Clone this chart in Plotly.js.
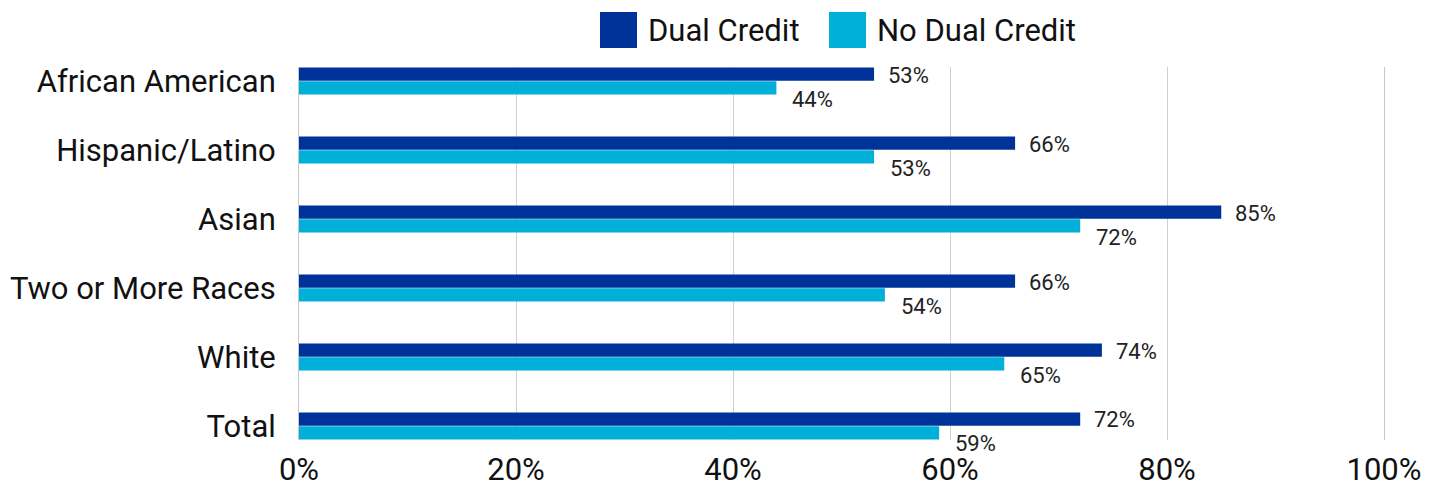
<!DOCTYPE html>
<html>
<head>
<meta charset="utf-8">
<script src="https://cdn.plot.ly/plotly-3.0.1.min.js"></script>
<style>html,body{margin:0;padding:0;background:#fff}#chart{width:1437px;height:483px}</style>
</head>
<body>
<div id="chart"></div>
<script>
const categories = ["African American", "Hispanic/Latino", "Asian", "Two or More Races", "White", "Total"];
const seriesNames = ["Dual Credit", "No Dual Credit"];
const dualCredit = [0.53, 0.66, 0.85, 0.66, 0.74, 0.72];
const noDualCredit = [0.44, 0.53, 0.72, 0.54, 0.65, 0.59];
const xTicks = [0, 0.2, 0.4, 0.6, 0.8, 1.0];
const xTickLabels = ["0%", "20%", "40%", "60%", "80%", "100%"];

const colors = ["#003399", "#00B0D8"];
const font = "Roboto, 'Noto Sans', sans-serif";

const traces = [dualCredit, noDualCredit].map((vals, i) => ({
  type: "bar",
  orientation: "h",
  name: seriesNames[i],
  y: categories,
  x: vals,
  marker: {color: colors[i], line: {width: 0}},
  hoverinfo: "x+y+name",
  showlegend: false
}));

const annotations = [];
categories.forEach((c, k) => {
  annotations.push({x: dualCredit[k], y: c, xref: "x", yref: "y", text: Math.round(dualCredit[k] * 100) + "%",
    showarrow: false, xanchor: "left", yanchor: "middle", xshift: 12, yshift: 6,
    font: {family: font, size: 22, color: "#222"}});
  annotations.push({x: noDualCredit[k], y: c, xref: "x", yref: "y", text: Math.round(noDualCredit[k] * 100) + "%",
    showarrow: false, xanchor: "left", yanchor: "middle", xshift: 14, yshift: -18,
    font: {family: font, size: 22, color: "#222"}});
});

// custom legend with large square swatches (plot area: x 299-1384, y 67-440)
const PW = 1085, PH = 373, PL = 299, PB = 440;
const legendX = [600, 829];
const shapes = [];
seriesNames.forEach((n, i) => {
  shapes.push({type: "rect", xref: "paper", yref: "paper",
    x0: (legendX[i] - PL) / PW, x1: (legendX[i] + 37 - PL) / PW,
    y0: (PB - 48) / PH, y1: (PB - 12) / PH,
    fillcolor: colors[i], line: {width: 0}});
  annotations.push({xref: "paper", yref: "paper",
    x: (legendX[i] + 46 - PL) / PW, y: (PB - 31) / PH,
    xanchor: "left", yanchor: "middle", showarrow: false, text: n,
    font: {family: font, size: 31, color: "#111"}});
});

const layout = {
  width: 1437, height: 483,
  margin: {l: 299, r: 53, t: 67, b: 43, pad: 0},
  paper_bgcolor: "#fff", plot_bgcolor: "#fff",
  barmode: "group", bargap: 0.6, bargroupgap: 0.04,
  showlegend: false,
  font: {family: font, color: "#111"},
  xaxis: {
    range: [0, 1], tickvals: xTicks, ticktext: xTickLabels,
    showgrid: true, gridcolor: "#d0d0d0", gridwidth: 1, zeroline: false,
    ticks: "outside", ticklen: 2, tickcolor: "rgba(0,0,0,0)",
    tickfont: {family: font, size: 31, color: "#111"}, fixedrange: true
  },
  yaxis: {
    type: "category", range: [5.203, -0.203],
    showgrid: false, zeroline: false,
    showline: true, mirror: true, linecolor: "#c8c8c8", linewidth: 1,
    ticks: "outside", ticklen: 16, tickcolor: "rgba(0,0,0,0)",
    tickfont: {family: font, size: 31, color: "#111"}, fixedrange: true
  },
  shapes: shapes,
  annotations: annotations
};
Plotly.newPlot("chart", traces, layout, {displayModeBar: false, staticPlot: true});
</script>
</body>
</html>
